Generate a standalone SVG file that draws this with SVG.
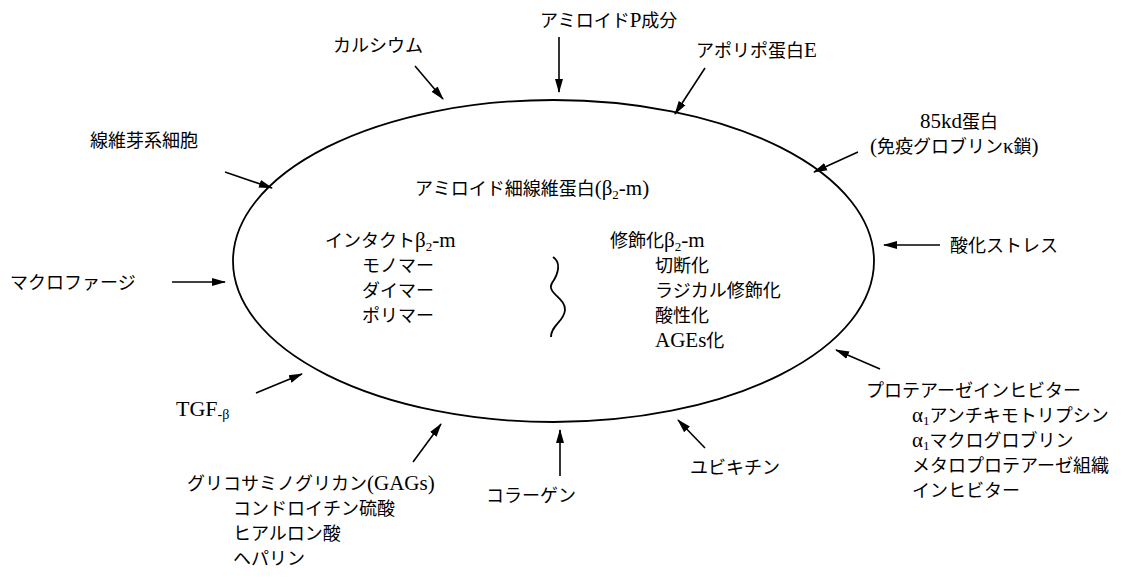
<svg xmlns="http://www.w3.org/2000/svg" width="1148" height="580" viewBox="0 0 1148 580">
<style>
text{font-family:"Liberation Serif","Noto Sans CJK JP",serif;font-size:18px;fill:#000}
.l{font-size:21px}
.sub{font-size:13px}
.ar{stroke:#000;stroke-width:1.6;fill:none;marker-end:url(#ah)}
</style>
<defs>
<marker id="ah" markerUnits="userSpaceOnUse" markerWidth="14" markerHeight="10" viewBox="0 0 14 10" refX="13" refY="5" orient="auto">
<path d="M0,1 L14,5 L0,9 Z" fill="#000"/>
</marker>
</defs>
<rect width="1148" height="580" fill="#fff"/>
<g id="center">
<ellipse cx="553.5" cy="261" rx="320.5" ry="161" fill="none" stroke="#000" stroke-width="1.8"/>
<text x="415" y="195">アミロイド細線維蛋白<tspan class="l">(β</tspan><tspan class="sub" dy="4">2</tspan><tspan class="l" dy="-4">-m)</tspan></text>
<text x="325" y="247">インタクト<tspan class="l">β</tspan><tspan class="sub" dy="4">2</tspan><tspan class="l" dy="-4">-m</tspan></text>
<text x="362" y="272">モノマー</text>
<text x="362" y="297">ダイマー</text>
<text x="362" y="322">ポリマー</text>
<path d="M553,257 C561,262 559,273 552,283 C546,293 566,298 565,310 C564,322 551,325 551,337" fill="none" stroke="#000" stroke-width="1.8"/>
<text x="610" y="247">修飾化<tspan class="l">β</tspan><tspan class="sub" dy="4">2</tspan><tspan class="l" dy="-4">-m</tspan></text>
<text x="655" y="272">切断化</text>
<text x="655" y="297">ラジカル修飾化</text>
<text x="655" y="322">酸性化</text>
<text x="655" y="347"><tspan class="l">AGEs</tspan>化</text>
</g>
<g id="n-amyloidP"><text x="540" y="27">アミロイド<tspan class="l">P</tspan>成分</text></g>
<g id="n-calcium"><text x="333" y="52">カルシウム</text></g>
<g id="n-apoE"><text x="696" y="57">アポリポ蛋白<tspan class="l">E</tspan></text></g>
<g id="n-85kd"><text x="920" y="128"><tspan class="l">85kd</tspan>蛋白</text><text x="870" y="153"><tspan class="l">(</tspan>免疫グロブリン<tspan class="l">κ</tspan>鎖<tspan class="l">)</tspan></text></g>
<g id="n-fibro"><text x="90" y="147">線維芽系細胞</text></g>
<g id="n-oxid"><text x="950" y="252">酸化ストレス</text></g>
<g id="n-macro"><text x="10" y="289">マクロファージ</text></g>
<g id="n-tgf"><text x="176" y="416"><tspan class="l" style="font-size:22px">TGF</tspan><tspan class="sub" style="font-size:14px" dy="3">-β</tspan></text></g>
<g id="n-gags">
<text x="187" y="490">グリコサミノグリカン<tspan class="l">(GAGs)</tspan></text>
<text x="233" y="515">コンドロイチン硫酸</text>
<text x="233" y="540">ヒアルロン酸</text>
<text x="233" y="565">ヘパリン</text>
</g>
<g id="n-collagen"><text x="486" y="502">コラーゲン</text></g>
<g id="n-ubiq"><text x="690" y="474">ユビキチン</text></g>
<g id="n-protease">
<text x="866" y="397">プロテアーゼインヒビター</text>
<text x="912" y="422"><tspan class="l">α</tspan><tspan class="sub" dy="3">1</tspan><tspan dy="-3">アンチキモトリプシン</tspan></text>
<text x="912" y="447"><tspan class="l">α</tspan><tspan class="sub" dy="3">1</tspan><tspan dy="-3">マクログロブリン</tspan></text>
<text x="912" y="472">メタロプロテアーゼ組織</text>
<text x="912" y="497">インヒビター</text>
</g>
<g id="connectors">
<line class="ar" x1="559" y1="37" x2="559" y2="92"/>
<line class="ar" x1="415" y1="66" x2="443" y2="99"/>
<line class="ar" x1="705" y1="68" x2="675" y2="114"/>
<line class="ar" x1="858" y1="152" x2="814" y2="172"/>
<line class="ar" x1="225" y1="172" x2="272" y2="188"/>
<line class="ar" x1="940" y1="245" x2="884" y2="245"/>
<line class="ar" x1="172" y1="282" x2="225" y2="282"/>
<line class="ar" x1="256" y1="393" x2="302" y2="374"/>
<line class="ar" x1="413" y1="462" x2="441" y2="424"/>
<line class="ar" x1="560" y1="476" x2="560" y2="430"/>
<line class="ar" x1="705" y1="448" x2="678" y2="420"/>
<line class="ar" x1="880" y1="369" x2="836" y2="350"/>
</g>
</svg>
